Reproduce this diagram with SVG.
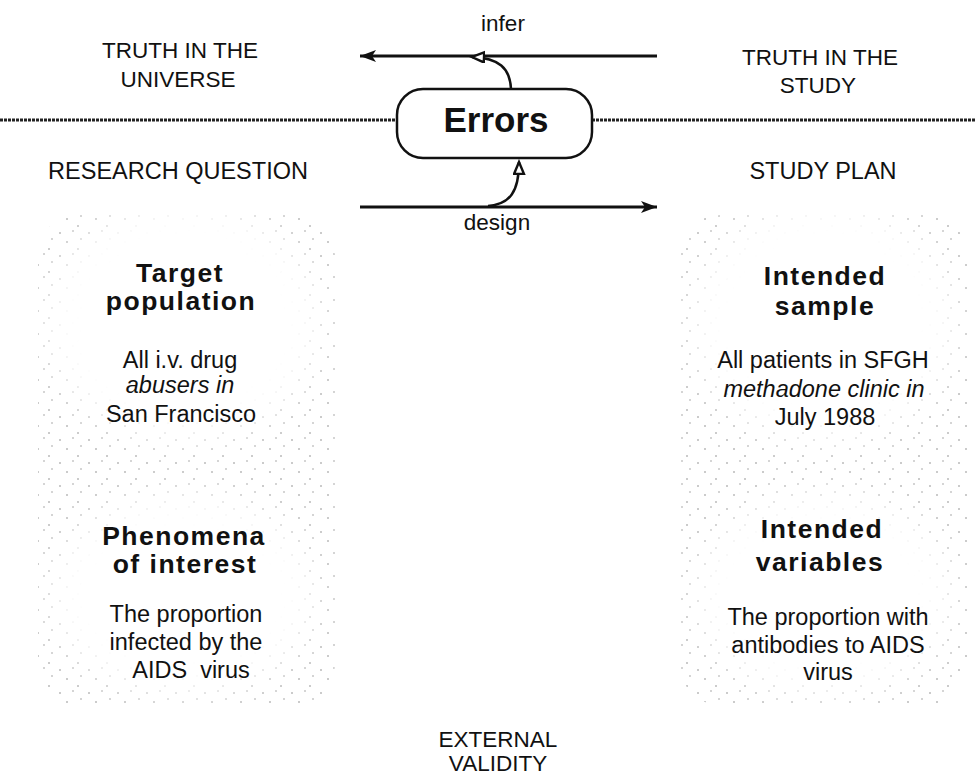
<svg xmlns="http://www.w3.org/2000/svg" width="975" height="776" viewBox="0 0 975 776">
<style>
text{font-family:"Liberation Sans",Arial,Helvetica,sans-serif;fill:#111;text-anchor:middle}
.lab{font-size:22.5px}
.body{font-size:23.5px}
.it{font-style:italic}
.title{font-size:26.5px;font-weight:bold;letter-spacing:1.5px}
.err{font-size:35px;font-weight:bold}
.line{stroke:#111;stroke-width:3;fill:none}
.sep{stroke:#222;stroke-width:3;stroke-dasharray:3 1;fill:none}
.curve{stroke:#111;stroke-width:2.5;fill:none}
</style>
<defs>
<pattern id="dots" width="29" height="23" patternUnits="userSpaceOnUse">
<circle cx="2" cy="3" r="0.8" fill="#555"/>
<circle cx="15" cy="1" r="0.7" fill="#555"/>
<circle cx="9" cy="12" r="0.8" fill="#555"/>
<circle cx="23" cy="9" r="0.7" fill="#555"/>
<circle cx="20" cy="19" r="0.8" fill="#555"/>
</pattern>
<filter id="soft" x="-20%" y="-20%" width="140%" height="140%"><feGaussianBlur stdDeviation="14"/></filter>
<marker id="fill" markerUnits="userSpaceOnUse" markerWidth="18" markerHeight="14" refX="16" refY="6" orient="auto">
<path d="M0,0 L16,6 L0,12 L4,6 z" fill="#111"/>
</marker>
<marker id="open" markerUnits="userSpaceOnUse" markerWidth="16" markerHeight="14" refX="13" refY="6" orient="auto">
<path d="M1,1 L13,6 L1,11 z" fill="#fff" stroke="#111" stroke-width="2.4"/>
</marker>
</defs>
<rect width="975" height="776" fill="#fff"/>
<g id="stipple-left" opacity="0.7">
<rect x="38" y="215" width="297" height="490" rx="40" fill="url(#dots)"/>
<ellipse cx="183" cy="322" rx="135" ry="118" fill="#fff" filter="url(#soft)"/>
<ellipse cx="183" cy="594" rx="130" ry="100" fill="#fff" filter="url(#soft)"/>
</g>
<g id="stipple-right" opacity="0.7">
<rect x="680" y="215" width="287" height="490" rx="40" fill="url(#dots)"/>
<ellipse cx="824" cy="322" rx="130" ry="118" fill="#fff" filter="url(#soft)"/>
<ellipse cx="824" cy="594" rx="126" ry="100" fill="#fff" filter="url(#soft)"/>
</g>
<g id="connectors">
<line class="sep" x1="0" y1="120" x2="397" y2="120"/>
<line class="sep" x1="592" y1="120" x2="975" y2="120"/>
<line class="line" x1="657" y1="56" x2="360" y2="56" marker-end="url(#fill)"/>
<path class="curve" d="M511,89 C510,68 499,58 472,57" marker-end="url(#open)"/>
<line class="line" x1="360" y1="207" x2="657" y2="207" marker-end="url(#fill)"/>
<path class="curve" d="M488,206 C510,204 519,192 519,162" marker-end="url(#open)"/>
</g>
<g id="errors">
<rect x="397" y="89" width="195" height="69" rx="26" fill="#fff" stroke="#111" stroke-width="2.5"/>
<text class="err" x="496" y="132">Errors</text>
</g>
<g id="infer-label"><text class="lab" x="503" y="31">infer</text></g>
<g id="design-label"><text class="lab" x="497" y="230">design</text></g>
<g id="truth-universe">
<text class="lab" x="180" y="58">TRUTH IN THE</text>
<text class="lab" x="178" y="87">UNIVERSE</text>
</g>
<g id="truth-study">
<text class="lab" x="820" y="65">TRUTH IN THE</text>
<text class="lab" x="818" y="93">STUDY</text>
</g>
<g id="research-question"><text class="body" x="178" y="179">RESEARCH QUESTION</text></g>
<g id="study-plan"><text class="body" x="823" y="179">STUDY PLAN</text></g>
<g id="target-population">
<text class="title" x="180" y="282">Target</text>
<text class="title" x="181" y="310">population</text>
<text class="body" x="180" y="368">All i.v. drug</text>
<text class="body it" x="180" y="393">abusers in</text>
<text class="body" x="181" y="422">San Francisco</text>
</g>
<g id="phenomena">
<text class="title" x="184" y="545">Phenomena</text>
<text class="title" x="185" y="573">of interest</text>
<text class="body" x="186" y="622">The proportion</text>
<text class="body" x="186" y="650">infected by the</text>
<text class="body" x="191" y="678" xml:space="preserve">AIDS  virus</text>
</g>
<g id="intended-sample">
<text class="title" x="825" y="285">Intended</text>
<text class="title" x="825" y="315">sample</text>
<text class="body" x="823" y="368">All patients in SFGH</text>
<text class="body it" x="824" y="397">methadone clinic in</text>
<text class="body" x="825" y="425">July 1988</text>
</g>
<g id="intended-variables">
<text class="title" x="822" y="538">Intended</text>
<text class="title" x="820" y="571">variables</text>
<text class="body" x="828" y="625">The proportion with</text>
<text class="body" x="828" y="653">antibodies to AIDS</text>
<text class="body" x="828" y="680">virus</text>
</g>
<g id="external-validity">
<text class="lab" x="498" y="747">EXTERNAL</text>
<text class="lab" x="498" y="771">VALIDITY</text>
</g>
</svg>
